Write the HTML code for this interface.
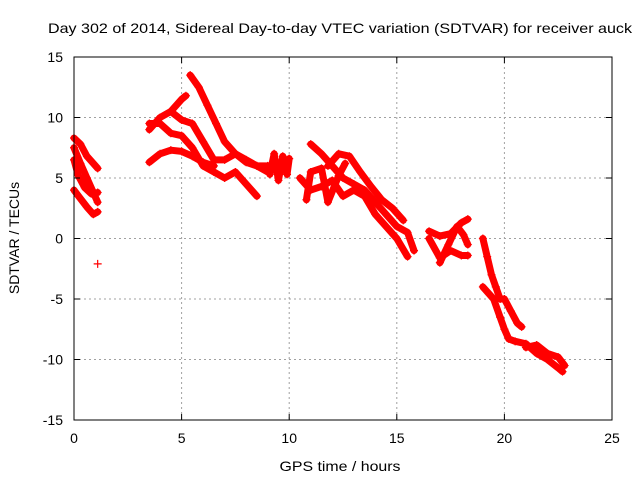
<!DOCTYPE html>
<html><head><meta charset="utf-8"><style>
body{margin:0;background:#fff;}
svg text{font-family:"Liberation Sans",sans-serif;font-size:14px;fill:#000;}
</style></head><body>
<svg id="chart" width="640" height="480">
<rect width="640" height="480" fill="#fff"/>
<text x="48" y="33" textLength="584" lengthAdjust="spacingAndGlyphs">Day 302 of 2014, Sidereal Day-to-day VTEC variation (SDTVAR) for receiver auck</text>
<g id="grid"></g>
<g id="series"></g>
<rect x="74" y="57" width="538" height="363" fill="none" stroke="#000" stroke-width="1"/>
<g id="ticks"></g>
<text x="340" y="471" text-anchor="middle" textLength="121" lengthAdjust="spacingAndGlyphs">GPS time / hours</text>
<text transform="translate(19,238) rotate(-90)" text-anchor="middle">SDTVAR / TECUs</text>
</svg>
<script>
const xTicks=[0,5,10,15,20,25];
const yTicks=[-15,-10,-5,0,5,10,15];
const trackA=[[0,8.3],[0.3,7.8],[0.6,6.8],[0.9,6.2],[1.1,5.8]];
const trackB=[[0,7.5],[0.3,6.2],[0.6,5],[0.9,3.8],[1.1,3]];
const trackC=[[0,6.5],[0.2,5.2],[0.5,4.2],[0.8,3.7],[1.1,3.8]];
const trackD=[[0,4],[0.3,3.3],[0.6,2.6],[0.9,2],[1.1,2.2]];
const outlier=[[1.1,-2.1]];
const trackE=[[5.4,13.5],[5.8,12.5],[6.2,11],[6.6,9.5],[7,8],[7.5,7],[8,6.3],[8.5,6],[9,6],[9.3,6]];
const trackF=[[3.5,9],[4,10],[4.5,10.5],[5,11.5],[5.2,11.8]];
const trackF2=[[4.5,10.5],[5,9.8],[5.5,9.5],[6,8],[6.5,6.5],[7,6.5],[7.5,7],[8,6.5],[8.5,6],[9,5.5]];
const trackG=[[3.5,9.5],[4,9.5],[4.5,8.7],[5,8.5],[5.5,7.5],[6,6],[6.5,5.5],[7,5],[7.5,5.5],[8,4.5],[8.5,3.5]];
const trackH=[[3.5,6.3],[4,7],[4.5,7.3],[5,7.2],[5.5,6.8],[6,6.3],[6.5,6]];
const trackJ9=[[9.1,5.3],[9.3,7],[9.5,4.8],[9.7,6.8],[9.9,5.3],[10,6.6]];
const trackI=[[11,7.8],[11.5,7],[12,6],[12.5,5],[13,4.5],[13.5,4],[14,3],[14.5,2],[15,1],[15.5,0.5],[15.8,-1]];
const trackJ=[[11.8,6],[12.3,7],[12.8,6.8],[13.3,5.5],[13.8,4.3],[14.3,3.2],[14.8,2.5],[15.3,1.5]];
const trackK=[[10.5,5],[11,4],[11.5,4.3],[12,4.8],[12.5,3.5],[13,4],[13.5,3.5],[14,2],[14.5,1],[15,0],[15.5,-1.5]];
const trackL=[[10.8,3.2],[11,5.5],[11.5,5.8],[11.8,3],[12.3,5.2],[12.6,6.2]];
const trackP=[[16.5,0.6],[17,0.2],[17.5,0.4],[18,1.3],[18.3,1.6]];
const trackQ=[[16.5,0],[17,-1.6],[17.5,-1],[18,-1.4],[18.3,-1.4]];
const trackR=[[17,-2],[17.4,-0.5],[17.8,1],[18.1,0.3],[18.3,-0.5]];
const trackM=[[19,0],[19.2,-1.5],[19.4,-3],[19.6,-4],[19.8,-5],[20,-5],[20.3,-6],[20.6,-7],[20.8,-7.3]];
const trackN=[[19,-4],[19.5,-5],[19.8,-6.5],[20,-7.5],[20.2,-8.3],[20.5,-8.5],[21,-8.7],[21.5,-9.5],[22,-10],[22.5,-10.7],[22.7,-11]];
const trackO=[[21,-9],[21.5,-8.8],[22,-9.5],[22.5,-9.8],[22.8,-10.5]];
const tracks=[trackA,trackB,trackC,trackD,outlier,trackE,trackF,trackF2,trackG,trackH,trackJ9,trackI,trackJ,trackK,trackL,trackP,trackQ,trackR,trackM,trackN,trackO];
const NS='http://www.w3.org/2000/svg';
const X=v=>74+v*538/25, Y=v=>238.5-v*363/30;
const grid=document.getElementById('grid'), ticks=document.getElementById('ticks'), ser=document.getElementById('series');
function mk(t,a,p){const e=document.createElementNS(NS,t);for(const k in a)e.setAttribute(k,a[k]);p.appendChild(e);return e;}
xTicks.forEach(v=>{const x=X(v);
 if(v>0&&v<25){const g=mk('line',{x1:x,x2:x,y1:57,y2:420,stroke:'#a0a0a0','stroke-dasharray':'2,3'},grid);
 
 }
 mk('line',{x1:x,x2:x,y1:420,y2:414,stroke:'#000'},ticks);mk('line',{x1:x,x2:x,y1:57,y2:63,stroke:'#000'},ticks);
 const t=mk('text',{x:x,y:443,'text-anchor':'middle'},ticks);t.textContent=v;
 
 });
yTicks.forEach(v=>{const y=Y(v);
 if(v>-15&&v<15){const g=mk('line',{x1:74,x2:612,y1:y,y2:y,stroke:'#a0a0a0','stroke-dasharray':'2,3'},grid);
 
 }
 mk('line',{x1:74,x2:80,y1:y,y2:y,stroke:'#000'},ticks);mk('line',{x1:612,x2:606,y1:y,y2:y,stroke:'#000'},ticks);
 const t=mk('text',{x:63,y:y+5,'text-anchor':'end'},ticks);t.textContent=v;
 
 });
tracks.forEach(tr=>{
 if(tr.length>1){const pl=mk('polyline',{points:tr.map(p=>X(p[0])+','+Y(p[1])).join(' '),fill:'none',stroke:'#f00','stroke-width':7,'stroke-linejoin':'round','stroke-linecap':'round'},ser);
 
 }
 tr.forEach(p=>{const x=X(p[0]),y=Y(p[1]);
  const m=mk('path',{d:`M${x-4},${y}H${x+4}M${x},${y-4}V${y+4}`,stroke:'#f00','stroke-width':1.2},ser);
  
  });
});
</script>
</body></html>
